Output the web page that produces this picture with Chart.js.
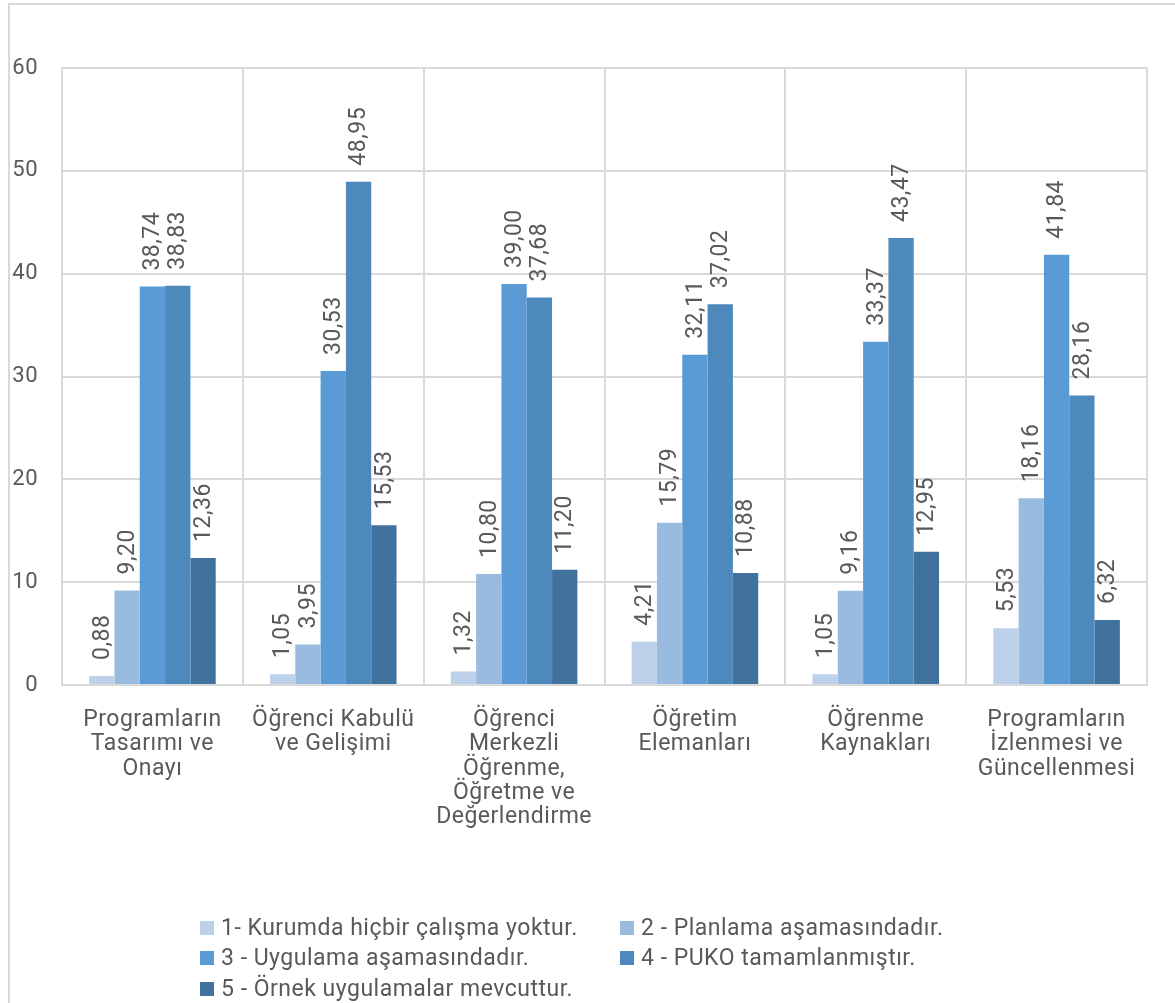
<!DOCTYPE html>
<html>
<head>
<meta charset="utf-8">
<script src="https://cdn.jsdelivr.net/npm/chart.js@4.4.0/dist/chart.umd.min.js"></script>
<style>
html,body{margin:0;padding:0;background:#fff;}
#wrap{position:relative;width:1175px;height:1003px;overflow:hidden;}
#frame{position:absolute;left:8px;top:3px;width:1300px;height:1100px;border:2px solid #d9d9d9;box-sizing:border-box;}
canvas{position:absolute;left:0;top:0;}
</style>
</head>
<body>
<div id="wrap">
<div id="frame"></div>
<canvas id="c" width="1175" height="1003"></canvas>
</div>
<script>
const categories = [
  ["Programların","Tasarımı ve","Onayı"],
  ["Öğrenci Kabulü","ve Gelişimi"],
  ["Öğrenci","Merkezli","Öğrenme,","Öğretme ve","Değerlendirme"],
  ["Öğretim","Elemanları"],
  ["Öğrenme","Kaynakları"],
  ["Programların","İzlenmesi ve","Güncellenmesi"]
];
const seriesNames = [
  "1- Kurumda hiçbir çalışma yoktur.",
  "2 - Planlama aşamasındadır.",
  "3 - Uygulama aşamasındadır.",
  "4 - PUKO tamamlanmıştır.",
  "5 - Örnek uygulamalar mevcuttur."
];
const s1 = [0.88, 1.05, 1.32, 4.21, 1.05, 5.53];
const s2 = [9.20, 3.95, 10.80, 15.79, 9.16, 18.16];
const s3 = [38.74, 30.53, 39.00, 32.11, 33.37, 41.84];
const s4 = [38.83, 48.95, 37.68, 37.02, 43.47, 28.16];
const s5 = [12.36, 15.53, 11.20, 10.88, 12.95, 6.32];
const yTicks = [0, 10, 20, 30, 40, 50, 60];
const colors = ["#bdd1eb", "#9abbe0", "#5b9bd5", "#4e89be", "#41729e"];

const FONT = "Roboto, 'DejaVu Sans', sans-serif";
const FSIZE = 23;
const SPACING = "0.5px";
const TXT = "#595959";

const spacingPlugin = {
  id: "spacing",
  beforeLayout(chart) { chart.ctx.letterSpacing = SPACING; },
  beforeDraw(chart) { chart.ctx.letterSpacing = SPACING; }
};

const labelPlugin = {
  id: "barLabels",
  afterDatasetsDraw(chart) {
    const ctx = chart.ctx;
    ctx.save();
    ctx.letterSpacing = SPACING;
    ctx.fillStyle = TXT;
    ctx.font = FSIZE + "px " + FONT;
    ctx.textAlign = "left";
    ctx.textBaseline = "middle";
    chart.data.datasets.forEach((ds, i) => {
      const meta = chart.getDatasetMeta(i);
      meta.data.forEach((bar, j) => {
        const txt = ds.data[j].toFixed(2).replace(".", ",");
        ctx.save();
        ctx.translate(bar.x + 1, bar.y - 16);
        ctx.rotate(-Math.PI / 2);
        ctx.fillText(txt, 0, 0);
        ctx.restore();
      });
    });
    ctx.restore();
  }
};

const legendPlugin = {
  id: "customLegend",
  afterDraw(chart) {
    const ctx = chart.ctx;
    const cols = [200, 620];
    const rows = [928, 958, 989];
    ctx.save();
    ctx.letterSpacing = SPACING;
    ctx.font = FSIZE + "px " + FONT;
    ctx.textBaseline = "middle";
    ctx.textAlign = "left";
    chart.data.datasets.forEach((ds, i) => {
      const x = cols[i % 2];
      const y = rows[Math.floor(i / 2)];
      ctx.fillStyle = ds.backgroundColor;
      ctx.fillRect(x, y - 7, 14, 14);
      ctx.fillStyle = TXT;
      ctx.fillText(ds.label, x + 21, y + 1);
    });
    ctx.restore();
  }
};

const seriesData = [s1, s2, s3, s4, s5];
new Chart(document.getElementById("c"), {
  type: "bar",
  data: {
    labels: categories,
    datasets: seriesData.map((d, i) => ({
      label: seriesNames[i],
      data: d,
      backgroundColor: colors[i],
      borderWidth: 0,
      categoryPercentage: 0.7,
      barPercentage: 1.0
    }))
  },
  options: {
    responsive: false,
    animation: false,
    devicePixelRatio: 1,
    layout: { padding: { left: 0, top: 68, right: 28, bottom: 0 } },
    plugins: { legend: { display: false }, tooltip: { enabled: false } },
    scales: {
      x: {
        grid: { color: "#d9d9d9", lineWidth: 2, drawTicks: false, offset: true },
        border: { color: "#d9d9d9", width: 2 },
        ticks: { color: TXT, font: { family: FONT, size: FSIZE, lineHeight: 1.06 }, padding: 23, maxRotation: 0, autoSkip: false },
        afterFit(scale) { scale.height = 318; }
      },
      y: {
        min: 0, max: 60,
        afterBuildTicks(scale) { scale.ticks = yTicks.map(v => ({ value: v })); },
        grid: { color: "#d9d9d9", lineWidth: 2, drawTicks: false },
        border: { color: "#d9d9d9", width: 2 },
        ticks: { color: TXT, font: { family: FONT, size: 22 }, padding: 24 },
        afterFit(scale) { scale.width = 62; }
      }
    }
  },
  plugins: [spacingPlugin, labelPlugin, legendPlugin]
});
</script>
</body>
</html>
